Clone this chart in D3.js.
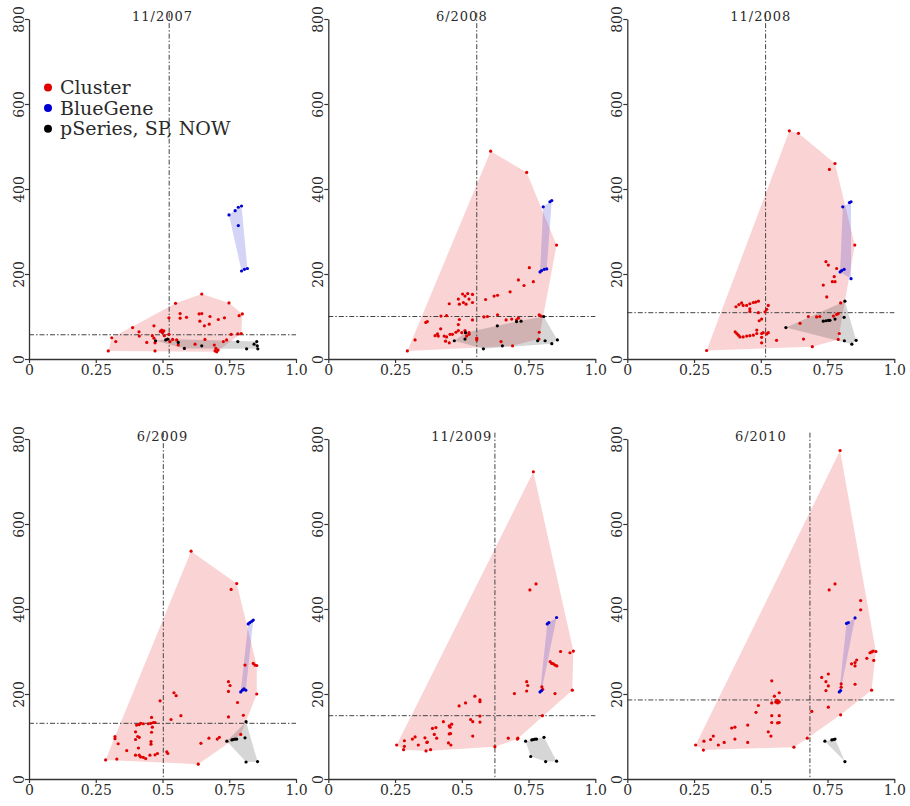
<!DOCTYPE html>
<html>
<head>
<meta charset="utf-8">
<script src="https://cdn.jsdelivr.net/npm/d3@7"></script>
<style>
  body { margin: 0; background: #fff; }
  text { font-family: "DejaVu Serif", serif; fill: #2a2a2a; }
</style>
</head>
<body>
<div id="chart"></div>
<script>
// panel titles and the dash-dot reference lines (x, y) for each snapshot
var titles = ["11/2007", "6/2008", "11/2008", "6/2009", "11/2009", "6/2010"];
var refX = [0.525, 0.556, 0.518, 0.503, 0.624, 0.684];
var refY = [57, 100, 109, 131, 149, 186];

var xTicks = [0, 0.25, 0.5, 0.75, 1.0];
var xTickLabels = ["0", "0.25", "0.5", "0.75", "1.0"];
var yTicks = [0, 200, 400, 600, 800];

var seriesNames = ["Cluster", "BlueGene", "pSeries, SP, NOW"];
var seriesColors = ["#e00000", "#0000d0", "#000000"];

// [x, y] per machine, one array per list and class
var cluster0711 = [[0.647,153],[0.549,131],[0.749,132],[0.524,97],[0.566,107],[0.566,96],[0.590,98],[0.637,106],[0.647,107],[0.640,89],[0.678,100],[0.657,78],[0.675,82],[0.709,93],[0.732,97],[0.787,102],[0.799,106],[0.388,74],[0.468,78],[0.412,64],[0.492,65],[0.497,68],[0.500,62],[0.505,66],[0.310,50],[0.325,41],[0.297,19],[0.413,54],[0.462,55],[0.468,49],[0.441,39],[0.472,38],[0.472,19],[0.507,55],[0.524,58],[0.528,41],[0.538,46],[0.553,45],[0.559,33],[0.622,35],[0.659,46],[0.694,33],[0.700,25],[0.697,19],[0.708,21],[0.703,17],[0.728,41],[0.757,58],[0.740,45],[0.782,59],[0.795,60]];
var blue0711 = [[0.749,339],[0.772,349],[0.784,357],[0.796,360],[0.784,314],[0.796,207],[0.807,211],[0.818,213]];
var pseries0711 = [[0.474,43],[0.512,45],[0.519,47],[0.559,39],[0.582,25],[0.647,31],[0.782,41],[0.815,24],[0.843,35],[0.853,41],[0.855,31],[0.857,24]];

var cluster0806 = [[0.608,489],[0.743,439],[0.855,268],[0.753,215],[0.712,186],[0.733,173],[0.768,182],[0.681,158],[0.621,148],[0.634,150],[0.589,140],[0.503,153],[0.512,148],[0.522,154],[0.540,152],[0.487,141],[0.491,129],[0.506,133],[0.453,130],[0.527,141],[0.516,129],[0.540,133],[0.371,88],[0.365,86],[0.422,101],[0.443,102],[0.491,93],[0.487,81],[0.540,92],[0.583,99],[0.596,100],[0.634,104],[0.666,92],[0.687,94],[0.705,92],[0.712,96],[0.790,104],[0.797,101],[0.790,63],[0.789,47],[0.421,71],[0.400,55],[0.409,59],[0.412,54],[0.434,54],[0.443,52],[0.456,58],[0.465,58],[0.478,63],[0.487,67],[0.500,62],[0.512,67],[0.527,62],[0.527,58],[0.518,54],[0.453,38],[0.439,42],[0.556,45],[0.556,49],[0.647,41],[0.690,31],[0.325,45],[0.296,19]];
var blue0806 = [[0.805,358],[0.830,370],[0.837,373],[0.793,205],[0.799,208],[0.809,211],[0.818,212]];
var pseries0806 = [[0.807,100],[0.705,88],[0.722,89],[0.633,78],[0.472,43],[0.514,62],[0.512,47],[0.581,24],[0.652,31],[0.784,43],[0.812,43],[0.837,36],[0.858,45]];

var cluster0811 = [[0.607,537],[0.641,531],[0.778,460],[0.757,446],[0.852,268],[0.744,229],[0.753,221],[0.784,213],[0.775,194],[0.768,182],[0.778,182],[0.734,174],[0.747,146],[0.799,132],[0.790,107],[0.784,105],[0.772,101],[0.709,99],[0.721,100],[0.678,100],[0.647,84],[0.794,60],[0.790,46],[0.660,47],[0.693,29],[0.559,44],[0.503,38],[0.522,59],[0.528,62],[0.503,60],[0.297,20],[0.407,123],[0.418,128],[0.428,132],[0.434,126],[0.447,126],[0.459,130],[0.472,133],[0.481,134],[0.491,136],[0.528,126],[0.459,118],[0.459,112],[0.491,109],[0.503,94],[0.494,90],[0.522,117],[0.516,111],[0.404,64],[0.410,60],[0.416,56],[0.422,52],[0.434,52],[0.447,54],[0.459,55],[0.472,56],[0.485,68],[0.485,60],[0.503,51],[0.509,62]];
var blue0811 = [[0.807,358],[0.832,368],[0.838,370],[0.797,205],[0.803,208],[0.812,211],[0.838,189]];
var pseries0811 = [[0.815,136],[0.594,74],[0.734,89],[0.744,90],[0.753,91],[0.759,91],[0.778,94],[0.812,98],[0.813,43],[0.841,35],[0.857,44]];

var cluster0906 = [[0.607,536],[0.778,460],[0.757,446],[0.809,268],[0.840,272],[0.846,268],[0.853,267],[0.747,229],[0.753,220],[0.747,206],[0.781,180],[0.853,200],[0.803,150],[0.747,146],[0.543,203],[0.551,196],[0.491,184],[0.569,149],[0.532,140],[0.459,145],[0.466,133],[0.456,131],[0.447,130],[0.428,130],[0.418,131],[0.413,128],[0.403,127],[0.472,133],[0.462,122],[0.459,110],[0.322,100],[0.322,95],[0.334,83],[0.399,111],[0.407,100],[0.399,93],[0.413,98],[0.457,88],[0.457,82],[0.410,73],[0.366,67],[0.399,56],[0.413,56],[0.418,52],[0.428,51],[0.437,48],[0.453,56],[0.472,57],[0.481,60],[0.516,64],[0.520,60],[0.329,47],[0.287,45],[0.644,84],[0.674,96],[0.705,94],[0.713,98],[0.793,105],[0.634,35]];
var blue0906 = [[0.821,365],[0.827,368],[0.834,371],[0.840,374],[0.793,205],[0.799,209],[0.805,212],[0.812,209]];
var pseries0906 = [[0.813,135],[0.741,89],[0.760,92],[0.765,93],[0.772,94],[0.778,94],[0.809,97],[0.813,40],[0.856,41]];

var cluster0911 = [[0.768,723],[0.778,459],[0.755,445],[0.870,300],[0.905,297],[0.918,301],[0.914,209],[0.831,276],[0.837,272],[0.843,271],[0.849,268],[0.856,266],[0.743,229],[0.747,220],[0.743,207],[0.697,201],[0.803,211],[0.800,217],[0.849,201],[0.802,149],[0.549,195],[0.568,186],[0.568,182],[0.514,179],[0.490,172],[0.533,140],[0.568,148],[0.568,134],[0.541,135],[0.431,135],[0.453,125],[0.462,129],[0.456,122],[0.541,101],[0.390,119],[0.403,121],[0.453,106],[0.458,107],[0.397,105],[0.406,96],[0.362,97],[0.369,86],[0.371,87],[0.325,99],[0.315,94],[0.337,80],[0.285,90],[0.285,77],[0.282,69],[0.256,80],[0.450,85],[0.459,80],[0.366,66],[0.383,69],[0.624,76],[0.674,96],[0.708,94],[0.710,96]];
var blue0911 = [[0.820,365],[0.826,368],[0.855,380],[0.793,205],[0.799,208]];
var pseries0911 = [[0.739,89],[0.762,92],[0.768,93],[0.774,94],[0.780,94],[0.808,98],[0.758,53],[0.814,41],[0.855,42]];

var cluster1006 = [[0.797,773],[0.778,459],[0.756,445],[0.874,420],[0.874,398],[0.859,280],[0.853,274],[0.840,271],[0.853,266],[0.897,284],[0.909,297],[0.915,299],[0.921,301],[0.931,300],[0.923,279],[0.915,209],[0.853,223],[0.753,247],[0.728,239],[0.744,229],[0.753,219],[0.744,208],[0.801,224],[0.801,216],[0.753,169],[0.799,151],[0.691,159],[0.674,96],[0.624,75],[0.541,231],[0.569,203],[0.551,195],[0.560,185],[0.566,183],[0.569,181],[0.563,179],[0.556,181],[0.541,179],[0.491,173],[0.482,157],[0.541,149],[0.569,149],[0.541,133],[0.569,133],[0.563,132],[0.451,127],[0.528,111],[0.538,101],[0.391,120],[0.403,122],[0.403,94],[0.451,86],[0.322,101],[0.312,93],[0.363,86],[0.341,80],[0.287,89],[0.285,68],[0.256,80]];
var blue1006 = [[0.821,366],[0.828,368],[0.853,379],[0.794,205],[0.799,208]];
var pseries1006 = [[0.740,89],[0.766,92],[0.772,93],[0.778,94],[0.815,41]];

var panels = [
    [cluster0711, blue0711, pseries0711],
    [cluster0806, blue0806, pseries0806],
    [cluster0811, blue0811, pseries0811],
    [cluster0906, blue0906, pseries0906],
    [cluster0911, blue0911, pseries0911],
    [cluster1006, blue1006, pseries1006]
];

var svgWidth = 910;
var svgHeight = 806;

// panel grid
var colLeft = [29, 328.3, 627.3];
var rowTop = [19, 439];
var plotWidth = 267;
var plotHeight = 340;

var svg = d3.select("#chart")
    .append("svg")
    .attr("width", svgWidth)
    .attr("height", svgHeight);

var xScale = d3.scaleLinear().domain([0, 1]).range([0, plotWidth]);
var yScale = d3.scaleLinear().domain([0, 800]).range([plotHeight, 0]);

panels.forEach(function(panel, i) {
    var g = svg.append("g")
        .attr("transform", `translate(${colLeft[i % 3]}, ${rowTop[Math.floor(i / 3)]})`);

    // convex hull of each class
    panel.forEach(function(pts, s) {
        var hull = d3.polygonHull(pts.map(d => [xScale(d[0]), yScale(d[1])]));
        if (!hull) return;
        g.append("path")
            .attr("d", "M" + hull.join("L") + "Z")
            .attr("fill", seriesColors[s])
            .attr("fill-opacity", s == 2 ? 0.16 : 0.17)
            .attr("stroke", "none");
    });

    // dash-dot reference lines
    g.append("line")
        .attr("x1", xScale(refX[i])).attr("x2", xScale(refX[i]))
        .attr("y1", yScale(815)).attr("y2", yScale(0))
        .attr("stroke", "#444").attr("stroke-width", 1)
        .attr("stroke-dasharray", "5,2,1.5,2");
    g.append("line")
        .attr("x1", xScale(0)).attr("x2", xScale(1))
        .attr("y1", yScale(refY[i])).attr("y2", yScale(refY[i]))
        .attr("stroke", "#444").attr("stroke-width", 1)
        .attr("stroke-dasharray", "5,2,1.5,2");

    // points
    panel.forEach(function(pts, s) {
        g.selectAll(null)
            .data(pts)
            .enter()
            .append("circle")
            .attr("cx", d => xScale(d[0]))
            .attr("cy", d => yScale(d[1]))
            .attr("r", 1.6)
            .attr("fill", seriesColors[s]);
    });

    // axes
    var xAxis = d3.axisBottom(xScale)
        .tickValues(xTicks)
        .tickFormat((d, k) => xTickLabels[k])
        .tickSize(4).tickSizeOuter(0).tickPadding(2);
    var yAxis = d3.axisLeft(yScale)
        .tickValues(yTicks)
        .tickFormat(d3.format("d"))
        .tickSize(4).tickSizeOuter(0);

    var gx = g.append("g")
        .attr("transform", `translate(0, ${plotHeight})`)
        .call(xAxis);
    var gy = g.append("g").call(yAxis);

    [gx, gy].forEach(function(ax) {
        ax.select(".domain").attr("stroke", "#333").attr("stroke-width", 1.3);
        ax.selectAll(".tick line").attr("stroke", "#333").attr("stroke-width", 1.2);
        ax.selectAll(".tick text")
            .style("font-family", "DejaVu Serif")
            .style("font-size", "14px")
            .attr("fill", "#2a2a2a");
    });

    gy.selectAll(".tick text")
        .attr("transform", "rotate(-90)")
        .attr("x", 0)
        .attr("y", -5)
        .attr("dy", 0)
        .attr("text-anchor", "middle");

    // title
    g.append("text")
        .attr("x", plotWidth / 2)
        .attr("y", 1.5)
        .attr("text-anchor", "middle")
        .style("font-size", "13px")
        .style("letter-spacing", "1px")
        .text(titles[i]);
});

// legend in the first panel
var legend = svg.append("g");
seriesNames.forEach(function(name, s) {
    legend.append("circle")
        .attr("cx", 48)
        .attr("cy", 87.5 + s * 20.6)
        .attr("r", 4)
        .attr("fill", seriesColors[s]);
    legend.append("text")
        .attr("x", 60)
        .attr("y", 94 + s * 20.6)
        .style("font-size", "19px")
        .text(name);
});
</script>
</body>
</html>
